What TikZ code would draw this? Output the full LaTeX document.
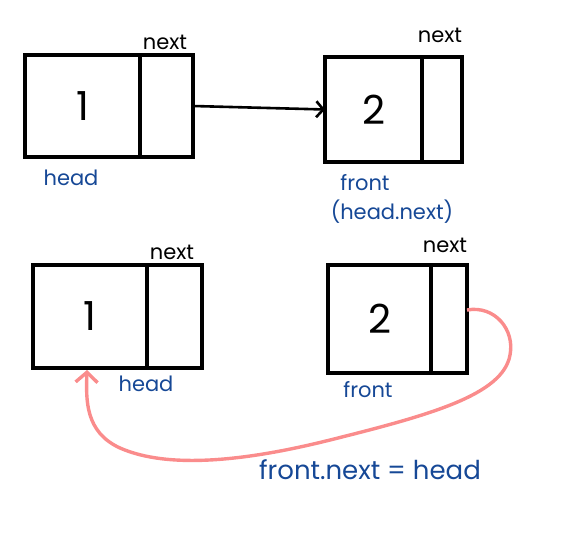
\documentclass[tikz,border=0pt]{standalone}
\usepackage{fontspec}
\setmainfont{Poppins}
\usetikzlibrary{arrows.meta}
\definecolor{inkblue}{RGB}{22,72,150}
\definecolor{inkpink}{RGB}{250,140,140}
\begin{document}
\begin{tikzpicture}[x=1pt,y=-1pt,
  cell/.style={draw=black,line width=3.2pt,inner sep=0pt,outer sep=0pt,minimum height=102pt,anchor=north west},
  val/.style={font=\fontsize{40}{42}\selectfont},
  nxt/.style={font=\fontsize{21}{22}\selectfont},
  lbl/.style={text=inkblue,font=\fontsize{21}{23}\selectfont},
  big/.style={text=inkblue,font=\fontsize{26}{28}\selectfont},
  ptr/.style={line width=2.6pt,-{Straight Barb[length=7pt,width=16pt]}},
  back/.style={draw=inkpink,line width=3.4pt,-{Straight Barb[length=10pt,width=22pt]}}]
\useasboundingbox (0,0) rectangle (569,532);
% top-left
\node[cell,minimum width=115pt] (a1) at (25,55) {};
\node[cell,minimum width=53pt] (a2) at (a1.north east) {};
\node[val] (a1v) at (a1.center) {1};
\node[nxt] (an) at (165,42) {next};
\node[lbl] (ah) at (71,178) {head};
% top-right
\node[cell,minimum width=97pt,minimum height=105pt] (b1) at (325,57) {};
\node[cell,minimum width=40pt,minimum height=105pt] (b2) at (b1.north east) {};
\node[val] (b1v) at (b1.center) {2};
\node[nxt] (bn) at (440,35) {next};
\node[lbl] (bf) at (365,183) {front};
\node[lbl] (bh) at (392,212) {(head.next)};
\draw[ptr] (a2.east) -- (b1.west);
% bottom-left
\node[cell,minimum width=114pt,minimum height=103pt] (c1) at (33,265) {};
\node[cell,minimum width=55pt,minimum height=103pt] (c2) at (c1.north east) {};
\node[val] (c1v) at (c1.center) {1};
\node[nxt] (cn) at (172,252) {next};
\node[lbl] (ch) at (146,384) {head};
% bottom-right
\node[cell,minimum width=103pt,minimum height=108pt] (d1) at (328,265) {};
\node[cell,minimum width=36pt,minimum height=108pt] (d2) at (d1.north east) {};
\node[val] (d1v) at (d1.center) {2};
\node[nxt] (dn) at (445,245) {next};
\node[lbl] (df) at (368,390) {front};
\node[big] (dl) at (370,470) {front.next = head};
\coordinate (ds) at ([yshift=9pt]d2.east);
\coordinate (ce) at ([xshift=-3pt,yshift=-2pt]c1.south);
\draw[back] (ds) .. controls (495,305) and (515,330) .. (510,355)
  .. controls (503,395) and (430,415) .. (330,440)
  .. controls (250,460) and (170,470) .. (120,448)
  .. controls (85,432) and (86,400) .. (ce);
\end{tikzpicture}
\end{document}
